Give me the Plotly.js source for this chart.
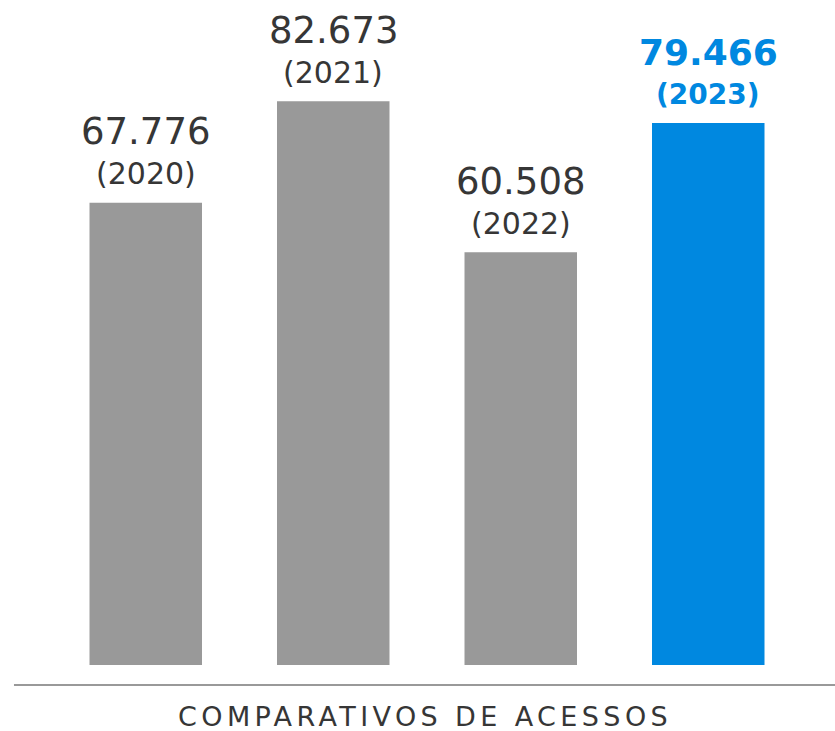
<!DOCTYPE html>
<html>
<head>
<meta charset="utf-8">
<script src="https://cdn.plot.ly/plotly-3.0.1.min.js"></script>
<style>html,body{margin:0;padding:0;background:#fff;}#chart{width:835px;height:731px;}</style>
</head>
<body>
<div id="chart"></div>
<script>
const years = ["2020", "2021", "2022", "2023"];
const valores = [67776, 82673, 60508, 79466];
const rotulosValor = ["67.776", "82.673", "60.508", "79.466"];
const cores = ["#999999", "#999999", "#999999", "#0088e0"];
const corTexto = ["#363636", "#363636", "#363636", "#0088e0"];
const negrito = [false, false, false, true];
const tituloEixo = "COMPARATIVOS DE ACESSOS";

const trace = {
  type: "bar",
  x: years,
  y: valores,
  marker: { color: cores },
  width: 0.6,
  hoverinfo: "skip"
};

const annotations = [];
years.forEach((yr, i) => {
  const fam = "DejaVu Sans, sans-serif";
  annotations.push({
    x: i, y: valores[i], xref: "x", yref: "y",
    text: negrito[i] ? "<b>" + rotulosValor[i] + "</b>" : rotulosValor[i],
    showarrow: false, yanchor: "middle", yshift: 71,
    font: { family: fam, size: negrito[i] ? 36 : 37, color: corTexto[i] }
  });
  annotations.push({
    x: i, y: valores[i], xref: "x", yref: "y",
    text: negrito[i] ? "<b>(" + yr + ")</b>" : "(" + yr + ")",
    showarrow: false, yanchor: "middle", yshift: 29,
    font: { family: fam, size: negrito[i] ? 28 : 30, color: corTexto[i] }
  });
});
annotations.push({
  x: 0.497, y: -0.077, xref: "paper", yref: "paper",
  text: "<span style='letter-spacing:4.4px'>" + tituloEixo + "</span>",
  showarrow: false, yanchor: "middle", xanchor: "center",
  font: { family: "DejaVu Sans, sans-serif", size: 27, color: "#363636" }
});

const layout = {
  width: 835, height: 731,
  margin: { l: 52, r: 33, t: 0, b: 66 },
  paper_bgcolor: "#ffffff", plot_bgcolor: "#ffffff",
  showlegend: false,
  xaxis: { range: [-0.5, 3.5], type: "category", showticklabels: false, showgrid: false, zeroline: false, showline: false, ticks: "" },
  yaxis: { range: [0, 97500], showticklabels: false, showgrid: false, zeroline: false, showline: false, ticks: "" },
  annotations: annotations,
  shapes: [{
    type: "line", xref: "paper", yref: "paper",
    x0: -0.0507, x1: 1.05, y0: -0.0301, y1: -0.0301,
    line: { color: "#999999", width: 2 }
  }]
};

Plotly.newPlot("chart", [trace], layout, { displayModeBar: false, staticPlot: true });
</script>
</body>
</html>
